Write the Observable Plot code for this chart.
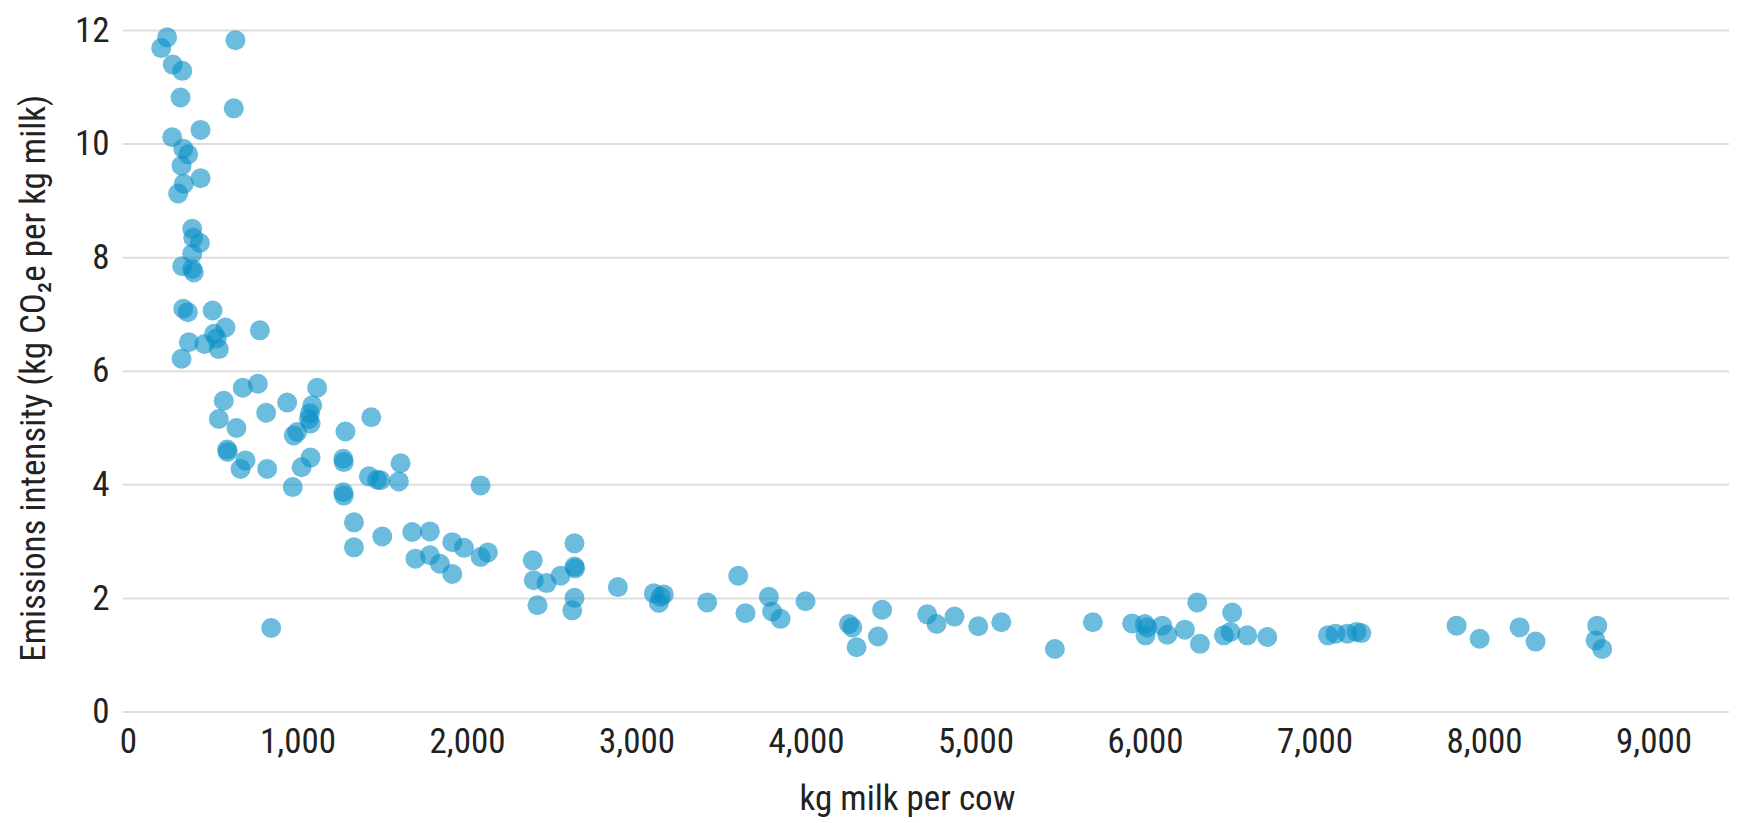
<!DOCTYPE html>
<html>
<head>
<meta charset="utf-8">
<script src="https://cdn.jsdelivr.net/npm/d3@7"></script>
<script src="https://cdn.jsdelivr.net/npm/@observablehq/plot@0.6"></script>
<style>
  html, body { margin: 0; padding: 0; background: #fff; }
  #chart svg { display: block; }
</style>
</head>
<body>
<div id="chart"></div>
<script>
// kg milk per cow
const milk = [
  228, 193, 631, 261, 317, 307, 621, 425, 258,
  323, 352, 313, 425, 326, 293,
  376, 382, 421, 376, 317, 376, 385,
  323, 350, 496,
  572, 775, 505, 520, 356, 448, 533, 313,
  763, 674, 1113, 562, 936, 1084, 812, 1070, 1064, 1074, 533, 637, 1432, 995, 975, 1280,
  582, 585, 690, 661, 818, 1074, 1021, 969, 1267, 1270, 1267, 1270, 1605, 1418, 1467, 1487, 1595,
  1330, 1330, 1497, 1674, 1693, 842,
  2077, 1778, 1778, 1837, 1910, 1979, 1910, 2077, 2120, 2385, 2391, 2466, 2549, 2413,
  2631, 2631, 2635, 2631, 2618, 2887, 3099, 3139, 3129, 3158, 3414, 3597, 3640, 3778, 3797, 3847, 3994,
  4250, 4270, 4295, 4446, 4421,
  4712, 4767, 4873, 5013, 5149, 5465, 5689, 5921, 5996, 6010, 6000, 6098, 6128, 6232, 6305, 6321,
  6511, 6462, 6501, 6600, 6718,
  7076, 7121, 7190, 7245, 7273, 7835, 7971, 8207, 8301, 8665, 8655, 8694
];
// kg CO2e per kg milk
const intensity = [
  11.88, 11.69, 11.83, 11.40, 11.29, 10.82, 10.63, 10.25, 10.12,
  9.92, 9.82, 9.62, 9.40, 9.30, 9.13,
  8.51, 8.35, 8.26, 8.07, 7.85, 7.80, 7.74,
  7.10, 7.04, 7.07,
  6.77, 6.72, 6.66, 6.58, 6.51, 6.48, 6.39, 6.22,
  5.78, 5.71, 5.71, 5.48, 5.45, 5.40, 5.27, 5.26, 5.16, 5.08, 5.16, 5.00, 5.19, 4.93, 4.87, 4.94,
  4.62, 4.58, 4.43, 4.28, 4.28, 4.48, 4.31, 3.96, 4.46, 4.40, 3.87, 3.81, 4.38, 4.15, 4.09, 4.08, 4.06,
  3.34, 2.90, 3.09, 3.17, 2.70, 1.48,
  3.99, 3.18, 2.76, 2.61, 2.99, 2.89, 2.43, 2.73, 2.81, 2.67, 2.32, 2.27, 2.40, 1.88,
  2.97, 2.56, 2.53, 2.01, 1.79, 2.20, 2.09, 2.03, 1.92, 2.07, 1.93, 2.40, 1.74, 2.03, 1.77, 1.64, 1.95,
  1.55, 1.49, 1.14, 1.80, 1.33,
  1.72, 1.55, 1.68, 1.51, 1.58, 1.11, 1.58, 1.56, 1.55, 1.49, 1.35, 1.52, 1.36, 1.45, 1.93, 1.20,
  1.75, 1.35, 1.41, 1.35, 1.32,
  1.35, 1.38, 1.38, 1.41, 1.39, 1.52, 1.29, 1.49, 1.24, 1.52, 1.26, 1.11
];
const xTicks = [0, 1000, 2000, 3000, 4000, 5000, 6000, 7000, 8000, 9000];
const yTicks = [0, 2, 4, 6, 8, 10, 12];
const xLabel = "kg milk per cow";
const yLabel = "Emissions intensity (kg CO₂e per kg milk)";

const data = milk.map((m, i) => ({milk: m, intensity: intensity[i]}));

const FONT = '"Liberation Sans Narrow", "Roboto Condensed", "DejaVu Sans Condensed", "Liberation Sans", sans-serif';

const chart = Plot.plot({
  width: 1739,
  height: 823,
  marginTop: 30,
  marginBottom: 111.5,
  marginLeft: 123,
  marginRight: 10,
  style: {fontFamily: FONT, fontSize: "35px", color: "#222", background: "#fff", fontStretch: "condensed"},
  x: {domain: [-29.5, 9445], ticks: xTicks, tickFormat: d3.format(","), label: null},
  y: {domain: [0, 12], ticks: yTicks, tickFormat: d3.format("d"), label: null},
  marks: [
    Plot.gridY(yTicks, {stroke: "#dedede", strokeOpacity: 1, strokeWidth: 2}),
    Plot.axisY(yTicks, {tickSize: 0, tickPadding: 14, fontSize: 35, tickFormat: d3.format("d"), label: null}),
    Plot.axisX(xTicks, {tickSize: 0, tickPadding: 16, fontSize: 35, tickFormat: d3.format(","), label: null}),
    Plot.dot(data, {x: "milk", y: "intensity", r: 10, fill: "#0a8fc7", fillOpacity: 0.6, stroke: "none"}),
    Plot.text([xLabel], {text: d => d, frameAnchor: "bottom", lineAnchor: "middle", dy: 87, dx: -19, fontSize: 35, fill: "#222"}),
    Plot.text([yLabel], {text: d => d, frameAnchor: "left", textAnchor: "middle", rotate: -90, lineAnchor: "middle", dx: -90, dy: 7, fontSize: 35, fill: "#222"})
  ]
});
document.getElementById("chart").appendChild(chart);
</script>
</body>
</html>
